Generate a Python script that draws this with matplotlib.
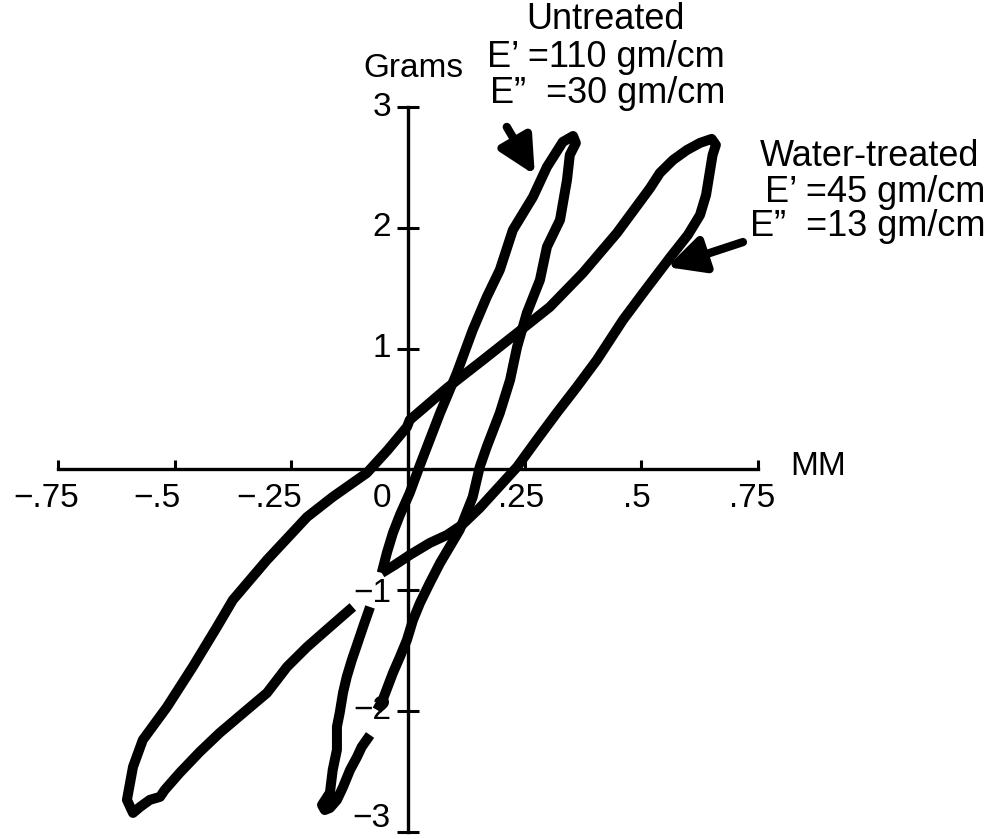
import matplotlib
matplotlib.use("Agg")
import matplotlib.pyplot as plt
import numpy as np

plt.rcParams["font.family"] = ["Liberation Sans", "DejaVu Sans"]

# displacement (MM) / force (Grams) traced loops; NaN marks a break in the trace
untreated_mm = [
    -0.056, -0.045, -0.032, -0.017, 0.004, 0.026, 0.069, 0.105, 0.139, 0.169,
    0.197, 0.225, 0.268, 0.298, 0.332, 0.354, 0.360,
    0.347, 0.341, 0.326, 0.298, 0.283, 0.255, 0.234, 0.219, 0.197, 0.169,
    0.154, 0.139, 0.111, 0.069, 0.047, 0.026, 0.011, -0.002, -0.017, -0.032,
    -0.054, -0.066, np.nan,
    -0.081, -0.099, -0.109, -0.124, -0.139, -0.152, -0.167, -0.178,
    -0.184, -0.167, -0.161, -0.152, -0.152, -0.146, -0.139, -0.131, -0.120,
    -0.109, -0.096, -0.081,
]
untreated_g = [
    -0.857, -0.691, -0.526, -0.377, -0.195, 0.036, 0.467, 0.798, 1.154, 1.427,
    1.651, 1.982, 2.255, 2.504, 2.711, 2.760, 2.702,
    2.603, 2.396, 2.065, 1.842, 1.568, 1.295, 1.013, 0.740, 0.467, 0.186,
    0.020, -0.228, -0.501, -0.775, -0.940, -1.106, -1.247, -1.412, -1.552, -1.685,
    -1.909, -1.992, np.nan,
    -2.199, -2.298, -2.381, -2.489, -2.630, -2.737, -2.803, -2.820,
    -2.778, -2.677, -2.487, -2.322, -2.131, -2.015, -1.850, -1.718, -1.577,
    -1.453, -1.304, -1.139,
]

water_mm = [
    -0.056, -0.028, 0.004, 0.047, 0.084, 0.116, 0.154, 0.193, 0.234, 0.276,
    0.319, 0.362, 0.405, 0.461, 0.504, 0.561, 0.600, 0.626, 0.639, 0.647,
    0.653, 0.660, 0.651, 0.626, 0.598, 0.568, 0.540, 0.519, 0.448, 0.375,
    0.304, 0.234, 0.161, 0.084, 0.004, -0.002, -0.043, -0.088, -0.161, -0.216,
    -0.302, -0.375, -0.409, -0.461, -0.516, -0.568, -0.589, -0.602, -0.589,
    -0.574, -0.553, -0.531, -0.521, -0.489, -0.446, -0.403, -0.345, -0.302,
    -0.259, -0.216, -0.167, -0.118,
]
water_g = [
    -0.857, -0.791, -0.709, -0.609, -0.543, -0.460, -0.319, -0.154, 0.020, 0.243,
    0.467, 0.682, 0.906, 1.237, 1.460, 1.750, 1.941, 2.106, 2.272, 2.462,
    2.603, 2.686, 2.736, 2.703, 2.644, 2.561, 2.454, 2.329, 1.957, 1.626,
    1.344, 1.129, 0.906, 0.674, 0.409, 0.351, 0.161, -0.030, -0.228, -0.394,
    -0.750, -1.081, -1.304, -1.635, -1.966, -2.240, -2.463, -2.736, -2.844,
    -2.795, -2.736, -2.711, -2.654, -2.513, -2.339, -2.181, -1.991, -1.851,
    -1.635, -1.470, -1.304, -1.139,
]

x_ticks = [-0.75, -0.5, -0.25, 0, 0.25, 0.5, 0.75]
x_tick_labels = ["\u2212.75", "\u2212.5", "\u2212.25", "0", ".25", ".5", ".75"]
y_ticks = [3, 2, 1, -1, -2, -3]
y_tick_labels = ["3", "2", "1", "\u22121", "\u22122", "\u22123"]

untreated_text = ["Untreated", "E\u2019 =110 gm/cm", "E\u201d  =30 gm/cm"]
water_text = ["Water-treated", "E\u2019 =45 gm/cm", "E\u201d  =13 gm/cm"]

fig = plt.figure(figsize=(10.01, 8.39), dpi=100)
ax = fig.add_axes([0, 0, 1, 1])
ax.set_xlim(-0.874, 1.271)
ax.set_ylim(-3.06, 3.886)

# cross-shaped axes through the origin
for side in ("top", "right"):
    ax.spines[side].set_visible(False)
ax.spines["left"].set_position(("data", 0))
ax.spines["bottom"].set_position(("data", 0))
ax.spines["left"].set_bounds(-3, 3)
ax.spines["bottom"].set_bounds(-0.75, 0.75)
for side in ("left", "bottom"):
    ax.spines[side].set_linewidth(2.4)
ax.set_facecolor("white")

ax.set_xticks(x_ticks)
ax.set_yticks(y_ticks)
ax.tick_params(axis="x", direction="in", length=6.5, width=2.2,
               labelbottom=False)
ax.tick_params(axis="y", direction="inout", length=16.5, width=2.2,
               labelleft=False)

x_label_dx = [-12, -18, -22, -26, -3, -4, -6]
for t, lab, dx in zip(x_ticks, x_tick_labels, x_label_dx):
    ax.annotate(lab, xy=(t, 0), xytext=(dx, -29), textcoords="offset pixels",
                ha="center", va="center", fontsize=24)
y_label_dy = [0, 0, 0, -3, 0, 13]
for t, lab, dy in zip(y_ticks, y_tick_labels, y_label_dy):
    ax.annotate(lab, xy=(0, t), xytext=(-17, dy), textcoords="offset pixels",
                ha="right", va="center", fontsize=24)

ax.text(0.011, 3.317, "Grams", ha="center", va="center", fontsize=24)
ax.text(0.819, 0.02, "MM", ha="left", va="center", fontsize=24)

line_kw = dict(color="black", lw=7.2, solid_joinstyle="round",
               solid_capstyle="butt")
ax.plot(water_mm, water_g, **line_kw)
ax.plot(untreated_mm, untreated_g, **line_kw)

for (x, y), s in zip([(0.424, 3.728), (0.424, 3.406), (0.429, 3.116)],
                     untreated_text):
    ax.text(x, y, s, ha="center", va="center", fontsize=26)
for (x, y), s in zip([(0.990, 2.594), (1.001, 2.296), (0.986, 2.007)],
                     water_text):
    ax.text(x, y, s, ha="center", va="center", fontsize=26)

arrow_kw = dict(arrowstyle="-|>,head_length=1.0,head_width=0.5",
                lw=6, color="black", shrinkA=0, shrinkB=0, mutation_scale=22)
ax.annotate("", xy=(0.272, 2.438), xytext=(0.212, 2.835), arrowprops=arrow_kw)
ax.annotate("", xy=(0.555, 1.675), xytext=(0.718, 1.882), arrowprops=arrow_kw)

fig.savefig("out.png", dpi=100, facecolor="white")
